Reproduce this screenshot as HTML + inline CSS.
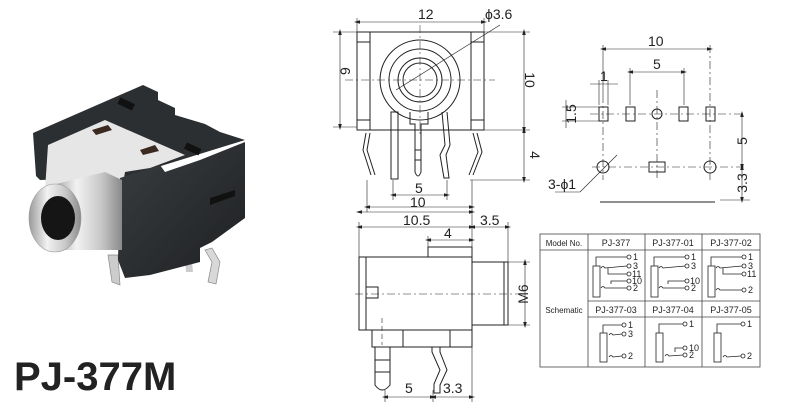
<!DOCTYPE html>
<html><head><meta charset="utf-8"><style>
html,body{margin:0;padding:0;background:#fff;}
svg{display:block;font-family:"Liberation Sans",sans-serif;}
.d{marker-start:url(#a);marker-end:url(#a);}
</style></head><body>
<svg width="800" height="410" viewBox="0 0 800 410" xmlns="http://www.w3.org/2000/svg">
<defs>
<marker id="a" viewBox="0 0 10 10" refX="5" refY="5" markerWidth="6" markerHeight="6" orient="auto-start-reverse" markerUnits="userSpaceOnUse"><path d="M0,2 L10,5 L0,8Z" fill="#222"/></marker>
<linearGradient id="sil" x1="0" y1="0" x2="1" y2="0">
<stop offset="0" stop-color="#9a9a9a"/><stop offset="0.35" stop-color="#f2f2f2"/><stop offset="0.7" stop-color="#c8c8c8"/><stop offset="1" stop-color="#8a8a8a"/>
</linearGradient>
<linearGradient id="blk" x1="0" y1="0" x2="1" y2="1">
<stop offset="0" stop-color="#3a3d40"/><stop offset="1" stop-color="#1e2022"/>
</linearGradient>
</defs>
<!-- PHOTO -->
<g>
<path d="M108,255 L112,282 L120,285 L118,255Z" fill="#ccc" stroke="#888" stroke-width="0.7"/>
<path d="M205,250 L212,262 L208,282 L216,284 L220,262 L212,248Z" fill="#d8d8d8" stroke="#888" stroke-width="0.7"/>
<path d="M185,262 L186,272 L193,272 L192,262Z" fill="#ccc"/>
<!-- black top frame -->
<path d="M33,133 L143,85 L158,92 L158,100 L175,108 L175,115 L205,124 L220,132 L245,140 L122,178 L40,180 L36,176Z" fill="#2c2f31"/>
<!-- silver interior -->
<path d="M48,145 L105,120 L185,155 L150,168 L125,172 L122,190 L45,190Z" fill="#e6e6e6"/>
<rect x="118" y="100" width="16" height="7" fill="#111" transform="rotate(25 125 104)"/>
<rect x="185" y="145" width="16" height="7" fill="#111" transform="rotate(25 192 148)"/>
<path d="M92,130 L108,125 L112,130 L96,135Z" fill="#3a2a20"/>
<path d="M140,150 L155,145 L159,151 L143,155Z" fill="#3a2a20"/>
<!-- front black face -->
<path d="M120,178 L160,165 L165,172 L200,160 L245,142 L245,218 L212,242 L200,248 L200,262 L150,275 L125,278 L118,260Z" fill="url(#blk)"/>
<path d="M210,198 L235,190 L235,196 L210,205Z" fill="#111"/>
<!-- cylinder -->
<path d="M52,185 L105,172 L122,180 L122,250 L60,250Z" fill="url(#sil)"/>
<ellipse cx="55" cy="218" rx="26" ry="34" fill="url(#sil)" stroke="#999" stroke-width="0.6"/>
<ellipse cx="58" cy="218" rx="17" ry="22" fill="#151515"/>
</g>
<text x="14" y="390" font-size="40" font-weight="bold" fill="#222">PJ-377M</text>

<g fill="none" stroke="#222" stroke-width="1">
<rect x="357" y="32" width="127" height="98"/>
<line x1="370" y1="38" x2="370" y2="125"/><line x1="471" y1="38" x2="471" y2="125"/>
<rect x="357" y="32" width="13" height="10"/><rect x="471" y="32" width="13" height="10"/>
<rect x="357" y="120" width="13" height="10"/><rect x="471" y="120" width="13" height="10"/>
<circle cx="420" cy="80" r="40"/><circle cx="420" cy="80" r="31"/>
<circle cx="420" cy="80" r="22"/><circle cx="420" cy="80" r="17"/>
<line x1="396" y1="90" x2="500" y2="25" stroke-width="0.7"/>
<line x1="345" y1="80" x2="495" y2="80" stroke-width="0.5" stroke-dasharray="8 3 2 3"/>
<line x1="420" y1="25" x2="420" y2="135" stroke-width="0.5" stroke-dasharray="8 3 2 3"/>
<path d="M366,133 L363,150 L371,175"/><path d="M370,133 L367,150 L375,175"/>
<rect x="391" y="112" width="7" height="67"/>
<path d="M410,112 L410,124 L415,124 L415,172 Q418,180 421,172 L421,124 L428,124 L428,112"/>
<line x1="415" y1="150" x2="421" y2="150"/><line x1="415" y1="160" x2="421" y2="160"/>
<path d="M442,112 L445,145 L440,155 L444,178 L449,178 L446,155 L450,145 L447,112"/>
<path d="M473,133 L478,152 L469,175"/><path d="M477,133 L482,152 L473,175"/>
</g>
<g stroke="#222" stroke-width="0.6" fill="none">
<line x1="357" y1="18" x2="357" y2="32"/><line x1="484" y1="18" x2="484" y2="32"/>
<line class="d" x1="357" y1="22" x2="484" y2="22"/>
<line x1="333" y1="32" x2="357" y2="32"/><line x1="333" y1="127" x2="357" y2="127"/>
<line class="d" x1="340" y1="32" x2="340" y2="127"/>
<line x1="484" y1="32" x2="530" y2="32"/><line x1="484" y1="130" x2="530" y2="130"/><line x1="470" y1="180" x2="530" y2="180"/>
<line class="d" x1="524" y1="32" x2="524" y2="130"/><line class="d" x1="524" y1="130" x2="524" y2="180"/>
<line x1="393" y1="180" x2="393" y2="200"/><line x1="447" y1="180" x2="447" y2="200"/>
<line class="d" x1="393" y1="195" x2="447" y2="195"/>
<line x1="367" y1="180" x2="367" y2="212"/><line x1="472" y1="180" x2="472" y2="212"/>
<line class="d" x1="367" y1="207" x2="472" y2="207"/>
</g>
<g font-size="14" fill="#222">
<text x="418" y="19">12</text><text x="485" y="19">ϕ3.6</text>
<text x="350" y="85" transform="rotate(-90 345 80)">9</text>
<text x="530" y="85" transform="rotate(90 530 80)" text-anchor="middle">10</text>
<text x="530" y="155" transform="rotate(90 530 155)" text-anchor="middle">4</text>
<text x="415" y="193">5</text><text x="410" y="207">10</text>
</g>

<!-- SIDE VIEW -->
<g fill="none" stroke="#222" stroke-width="1">
<rect x="359" y="257" width="113" height="73"/>
<line x1="366" y1="257" x2="366" y2="330"/>
<path d="M366,287 L378,287 L378,298 L366,298"/>
<rect x="428" y="247" width="44" height="10"/>
<rect x="472" y="262" width="36" height="63"/>
<line x1="504" y1="262" x2="504" y2="325"/>
<rect x="372" y="330" width="100" height="17"/>
<line x1="403" y1="330" x2="403" y2="347"/><line x1="450" y1="330" x2="450" y2="347"/>
<path d="M375,347 L375,385 Q382,395 390,385 L390,347"/>
<line x1="375" y1="360" x2="390" y2="360"/><line x1="375" y1="372" x2="390" y2="372"/>
<path d="M432,347 L432,352 L440,370 L434,384 L434,393 L440,393 L440,385 L447,370 L440,352 L440,347"/>
</g>
<g stroke="#222" stroke-width="0.6" fill="none">
<line x1="355" y1="294" x2="525" y2="294" stroke-dasharray="8 3 2 3"/>
<line x1="382" y1="318" x2="382" y2="345" stroke-dasharray="5 3"/>
<line x1="359" y1="222" x2="359" y2="257"/><line x1="472" y1="210" x2="472" y2="257"/><line x1="508" y1="222" x2="508" y2="262"/>
<line class="d" x1="359" y1="227" x2="472" y2="227"/><line class="d" x1="472" y1="227" x2="508" y2="227"/>
<line x1="428" y1="236" x2="428" y2="247"/><line class="d" x1="428" y1="240" x2="472" y2="240"/>
<line class="d" x1="359" y1="212" x2="472" y2="212"/>
<line x1="508" y1="262" x2="530" y2="262"/><line x1="508" y1="325" x2="530" y2="325"/><line class="d" x1="525" y1="262" x2="525" y2="325"/>
<line x1="385" y1="390" x2="385" y2="402"/><line x1="433" y1="390" x2="433" y2="402"/><line x1="472" y1="347" x2="472" y2="402"/>
<line class="d" x1="385" y1="397" x2="433" y2="397"/><line class="d" x1="433" y1="397" x2="472" y2="397"/>
</g>
<g font-size="14" fill="#222">
<text x="403" y="225">10.5</text><text x="480" y="225">3.5</text><text x="444" y="238">4</text>
<text x="528" y="294" transform="rotate(-90 528 294)" text-anchor="middle">M6</text>
<text x="405" y="393">5</text><text x="443" y="393">3.3</text>
</g>

<!-- FOOTPRINT -->
<g fill="none" stroke="#222" stroke-width="1">
<rect x="599" y="107" width="9" height="14"/><rect x="626" y="107" width="9" height="14"/>
<circle cx="657" cy="114" r="5"/>
<rect x="679" y="107" width="9" height="14"/><rect x="706" y="107" width="9" height="14"/>
<circle cx="603" cy="167" r="6"/><rect x="649" y="162" width="16" height="10"/><circle cx="710" cy="167" r="6"/>
<line x1="600" y1="202" x2="715" y2="202"/>
</g>
<g stroke="#222" stroke-width="0.6" fill="none">
<line x1="590" y1="114" x2="745" y2="114" stroke-dasharray="8 3 2 3"/>
<line x1="592" y1="167" x2="745" y2="167" stroke-dasharray="8 3 2 3"/>
<line x1="603" y1="95" x2="603" y2="180" stroke-dasharray="8 3 2 3"/>
<line x1="657" y1="90" x2="657" y2="180" stroke-dasharray="8 3 2 3"/>
<line x1="710" y1="45" x2="710" y2="180" stroke-dasharray="8 3 2 3"/>
<line x1="603" y1="45" x2="603" y2="95"/><line class="d" x1="603" y1="49" x2="710" y2="49"/>
<line x1="630" y1="68" x2="630" y2="105"/><line x1="684" y1="68" x2="684" y2="105"/><line class="d" x1="630" y1="72" x2="684" y2="72"/>
<line x1="599" y1="80" x2="599" y2="105"/><line x1="608" y1="80" x2="608" y2="105"/><line x1="590" y1="84" x2="618" y2="84"/>
<line x1="562" y1="107" x2="599" y2="107"/><line x1="562" y1="121" x2="599" y2="121"/><line x1="566" y1="100" x2="566" y2="128"/>
<line class="d" x1="742" y1="114" x2="742" y2="167"/><line class="d" x1="742" y1="167" x2="742" y2="200"/><line x1="720" y1="200" x2="750" y2="200"/>
<line x1="555" y1="192" x2="580" y2="192"/><line x1="580" y1="192" x2="617" y2="155"/>
</g>
<g font-size="14" fill="#222">
<text x="648" y="46">10</text><text x="653" y="69">5</text><text x="600" y="81">1</text>
<text x="570" y="120" transform="rotate(-90 570 114)" text-anchor="middle">1.5</text>
<text x="747" y="141" transform="rotate(-90 747 141)" text-anchor="middle">5</text>
<text x="747" y="183" transform="rotate(-90 747 183)" text-anchor="middle">3.3</text>
<text x="548" y="189">3-ϕ1</text>
</g>

<!-- TABLE -->
<g fill="none" stroke="#444" stroke-width="0.8">
<rect x="540" y="234" width="220" height="133"/>
<line x1="540" y1="250" x2="760" y2="250"/>
<line x1="588" y1="301" x2="760" y2="301"/><line x1="588" y1="317" x2="760" y2="317"/>
<line x1="588" y1="234" x2="588" y2="367"/><line x1="645" y1="234" x2="645" y2="367"/><line x1="702" y1="234" x2="702" y2="367"/>
</g>
<g font-size="9" fill="#222" text-anchor="middle">
<text x="564" y="246" font-size="8">Model No.</text>
<text x="616" y="246">PJ-377</text><text x="673" y="246">PJ-377-01</text><text x="731" y="246">PJ-377-02</text>
<text x="564" y="313" font-size="8">Schematic</text>
<text x="616" y="313">PJ-377-03</text><text x="673" y="313">PJ-377-04</text><text x="731" y="313">PJ-377-05</text>
</g>
<g fill="none" stroke="#222" stroke-width="0.8">
<rect x="593" y="266" width="7" height="31"/>
<path d="M596,266 L596,257 L627,257"/><circle cx="629" cy="257" r="2"/>
<path d="M601,268 q2,-3 4,0 L627,266"/><circle cx="629" cy="266" r="2"/>
<path d="M608,268 L608,274 L627,274"/><circle cx="629" cy="274" r="2"/>
<path d="M611,284 L611,281 L627,281"/><circle cx="629" cy="281" r="2"/>
<path d="M601,288 q2,-3 4,0 L627,288"/><circle cx="629" cy="288" r="2"/>
<rect x="651" y="266" width="7" height="31"/>
<path d="M654,266 L654,257 L685,257"/><circle cx="687" cy="257" r="2"/>
<path d="M659,268 q2,-3 4,0 L685,266"/><circle cx="687" cy="266" r="2"/>
<path d="M668,284 L668,281 L685,281"/><circle cx="687" cy="281" r="2"/>
<path d="M659,288 q2,-3 4,0 L685,288"/><circle cx="687" cy="288" r="2"/>
<rect x="708" y="266" width="7" height="31"/>
<path d="M711,266 L711,257 L742,257"/><circle cx="744" cy="257" r="2"/>
<path d="M716,268 q2,-3 4,0 L742,266"/><circle cx="744" cy="266" r="2"/>
<path d="M723,268 L723,274 L742,274"/><circle cx="744" cy="274" r="2"/>
<path d="M716,290 q2,-3 4,0 L742,290"/><circle cx="744" cy="290" r="2"/>
<rect x="600" y="333" width="7" height="29"/>
<path d="M603,333 L603,325 L622,325"/><circle cx="624" cy="325" r="2"/>
<path d="M609,335 q2,-3 4,0 L622,334"/><circle cx="624" cy="334" r="2"/>
<path d="M609,357 q2,-3 4,0 L622,356"/><circle cx="624" cy="356" r="2"/>
<rect x="656" y="333" width="7" height="29"/>
<path d="M659,333 L659,324 L683,324"/><circle cx="685" cy="324" r="2"/>
<path d="M675,352 L675,348 L683,348"/><circle cx="685" cy="348" r="2"/>
<path d="M665,356 q2,-3 4,0 L683,355"/><circle cx="685" cy="355" r="2"/>
<rect x="714" y="333" width="7" height="29"/>
<path d="M717,333 L717,324 L741,324"/><circle cx="743" cy="324" r="2"/>
<path d="M723,357 q2,-3 4,0 L741,356"/><circle cx="743" cy="356" r="2"/>
</g>
<g font-size="9" fill="#222">
<text x="633" y="260">1</text><text x="633" y="269">3</text><text x="632" y="277">11</text><text x="632" y="284">10</text><text x="633" y="291">2</text>
<text x="691" y="260">1</text><text x="691" y="269">3</text><text x="690" y="284">10</text><text x="691" y="291">2</text>
<text x="748" y="260">1</text><text x="748" y="269">3</text><text x="747" y="277">11</text><text x="748" y="293">2</text>
<text x="628" y="328">1</text><text x="628" y="337">3</text><text x="628" y="359">2</text>
<text x="689" y="327">1</text><text x="689" y="351">10</text><text x="689" y="358">2</text>
<text x="747" y="327">1</text><text x="747" y="359">2</text>
</g>
</svg>
</body></html>
